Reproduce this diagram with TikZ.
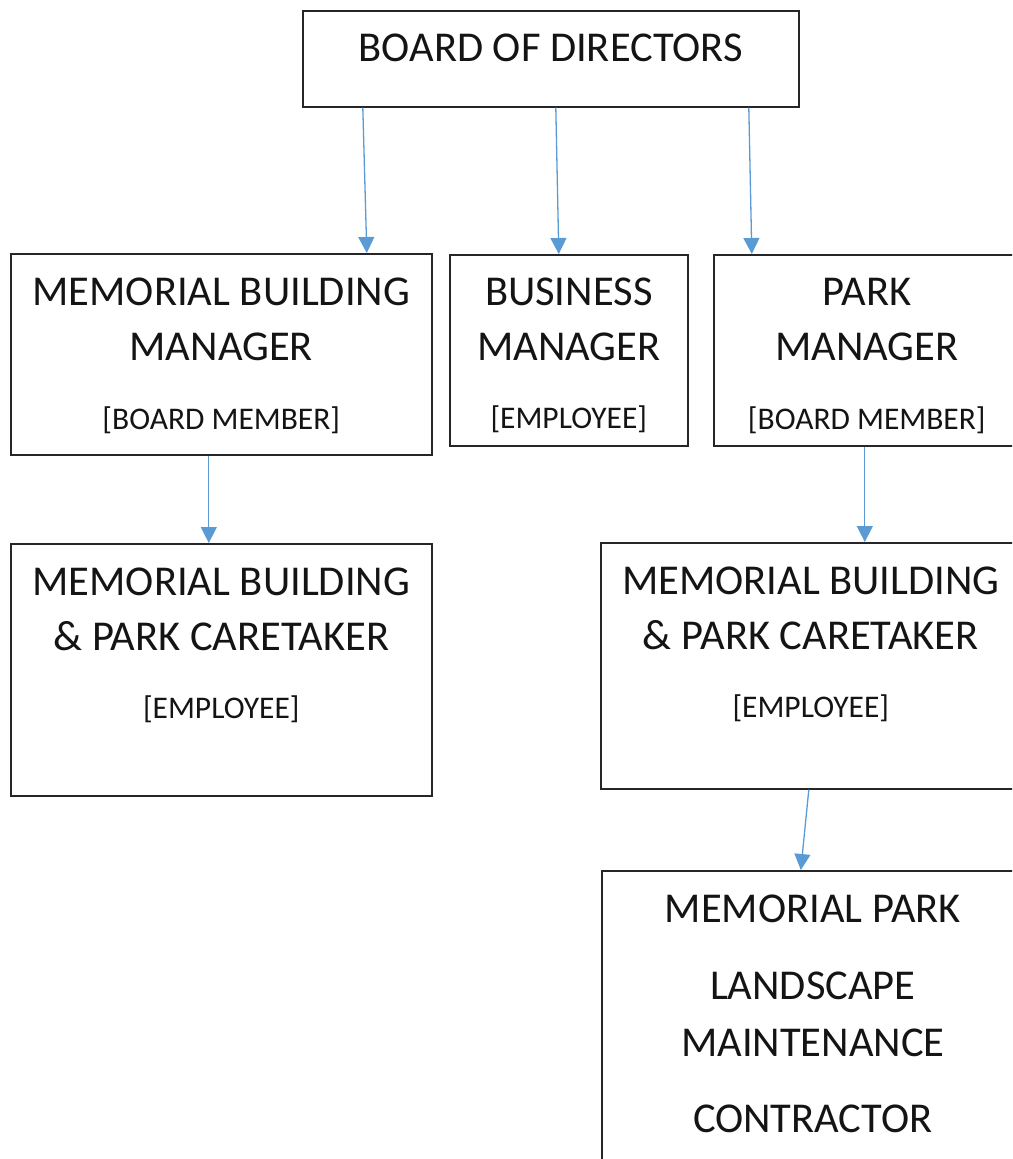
\documentclass[tikz,border=0pt]{standalone}
\usepackage{fontspec}
\setmainfont{Carlito}
\usepackage{tikz}
\usetikzlibrary{arrows.meta}
\definecolor{linkblue}{HTML}{5B9BD5}

\begin{document}
\begin{tikzpicture}[x=1pt,y=-1pt]
\tikzset{
  box/.style={draw=black!85, line width=1.6pt, anchor=north west, inner sep=0pt},
  big/.style={font=\fontsize{42.5}{50}\selectfont, text=black!92, anchor=base},
  small/.style={font=\fontsize{31.5}{38}\selectfont, text=black!92, anchor=base},
  link/.style={draw=linkblue, line width=1.3pt, -{Triangle[width=16pt,length=16pt,fill=linkblue]}},
}
\useasboundingbox (0,0) rectangle (1012,1159);
\clip (0,0) rectangle (1012,1159);

% boxes
\node[box, minimum width=496, minimum height=96] (board) at (302,10) {};
\node[box, minimum width=421, minimum height=201] (mbm) at (10,253) {};
\node[box, minimum width=238, minimum height=191] (bus) at (449,254) {};
\node[box, minimum width=306, minimum height=191] (pm) at (713,254) {};
\node[box, minimum width=421, minimum height=252] (care1) at (10,543) {};
\node[box, minimum width=420, minimum height=246] (care2) at (600,542) {};
\node[box, minimum width=422, minimum height=320] (park) at (601,870) {};

% texts
\node[big] (board-1) at ([yshift=-51]board.north) {BOARD OF DIRECTORS};
\foreach \b in {mbm,care1,care2} {
  \node[big] (\b-1) at ([yshift=-52]\b.north) {MEMORIAL BUILDING};
}
\node[big] (mbm-2) at ([yshift=-107]mbm.north) {MANAGER};
\node[small] (mbm-3) at ([yshift=-176]mbm.north) {[BOARD MEMBER]};
\node[big] (bus-1) at ([yshift=-51]bus.north) {BUSINESS};
\node[big] (bus-2) at ([yshift=-106]bus.north) {MANAGER};
\node[small] (bus-3) at ([yshift=-174]bus.north) {[EMPLOYEE]};
\node[big] (pm-1) at ([yshift=-51]pm.north) {PARK};
\node[big] (pm-2) at ([yshift=-106]pm.north) {MANAGER};
\node[small] (pm-3) at ([yshift=-175]pm.north) {[BOARD MEMBER]};
\foreach \b in {care1,care2} {
  \node[big] (\b-2) at ([yshift=-107]\b.north) {\& PARK CARETAKER};
  \node[small] (\b-3) at ([yshift=-175]\b.north) {[EMPLOYEE]};
}
\node[big] (park-1) at ([yshift=-52]park.north) {MEMORIAL PARK};
\node[big] (park-2) at ([yshift=-129]park.north) {LANDSCAPE};
\node[big] (park-3) at ([yshift=-186]park.north) {MAINTENANCE};
\node[big] (park-4) at ([yshift=-262]park.north) {CONTRACTOR};

% reporting lines
\foreach \s/\ds/\t/\dt in {board/-188/mbm/145.5, board/5/bus/-10, board/198/pm/-115,
    mbm/-12.5/care1/-12.5, pm/-2/care2/54, care2/-2/park/-12} {
  \draw[link] ([xshift=\ds]\s.south) -- ([xshift=\dt]\t.north);
}
\end{tikzpicture}
\end{document}
